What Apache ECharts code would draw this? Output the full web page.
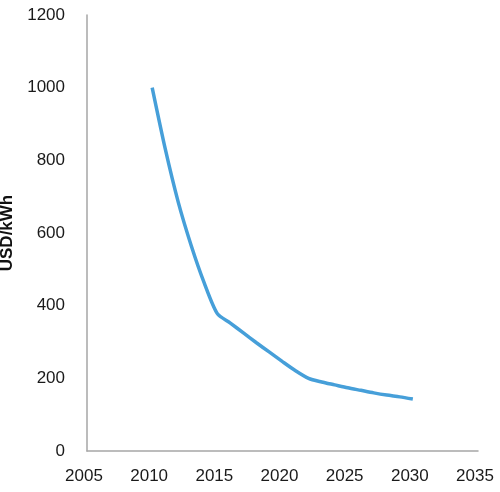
<!DOCTYPE html>
<html>
<head>
<meta charset="utf-8">
<script src="https://cdn.jsdelivr.net/npm/echarts@6/dist/echarts.min.js"></script>
<style>
html,body{margin:0;padding:0;background:#fff;}
#chart{width:500px;height:492px;}
</style>
</head>
<body>
<div id="chart"></div>
<script>
const years = [2010, 2011, 2012, 2013, 2014, 2015, 2016, 2017, 2018, 2019, 2020, 2021, 2022, 2023, 2024, 2025, 2026, 2027, 2028, 2029, 2030];
const costs = [1000, 832, 685, 565, 462, 378, 352, 325, 298, 272, 246, 221, 200, 190, 182, 174, 167, 160, 154, 149, 143];
const xTicks = [2005, 2035, 5];
const yTicks = [0, 1200, 200];
const yName = 'USD/kWh';

const chart = echarts.init(document.getElementById('chart'));
chart.setOption({
  animation: false,
  grid: {left: 87, right: 22, top: 15, bottom: 41, containLabel: false, outerBoundsMode: 'none'},
  xAxis: {
    type: 'value', min: xTicks[0], max: xTicks[1], interval: xTicks[2],
    axisLine: {show: true, lineStyle: {color: '#a6a6a6', width: 1.5}},
    axisTick: {show: false},
    splitLine: {show: false},
    axisLabel: {color: '#1a1a1a', fontSize: 17, fontFamily: 'Liberation Sans', margin: 17, padding: [0, 6, 0, 0], formatter: v => String(v)}
  },
  yAxis: {
    type: 'value', min: yTicks[0], max: yTicks[1], interval: yTicks[2],
    name: yName, nameLocation: 'middle', nameGap: 64,
    nameTextStyle: {color: '#111', fontSize: 17, fontWeight: 'bold', fontFamily: 'Liberation Sans'},
    axisLine: {show: true, lineStyle: {color: '#a6a6a6', width: 1.5}},
    axisTick: {show: false},
    splitLine: {show: false},
    axisLabel: {color: '#1a1a1a', fontSize: 17, fontFamily: 'Liberation Sans', margin: 22, formatter: v => String(v)}
  },
  series: [{
    type: 'line',
    data: years.map((y, i) => [y, costs[i]]),
    smooth: 0.25,
    showSymbol: false,
    lineStyle: {color: '#469fd9', width: 3.5}
  }]
});
</script>
</body>
</html>
